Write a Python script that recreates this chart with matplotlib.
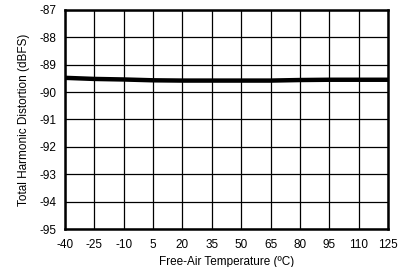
import matplotlib
matplotlib.use("Agg")
import matplotlib.pyplot as plt

temps = [-40, -25, -10, 5, 20, 35, 50, 65, 80, 95, 110, 125]
thd = [-89.48, -89.52, -89.54, -89.57, -89.58, -89.58, -89.58, -89.58, -89.56, -89.55, -89.55, -89.55]
xticks = [-40, -25, -10, 5, 20, 35, 50, 65, 80, 95, 110, 125]
yticks = [-95, -94, -93, -92, -91, -90, -89, -88, -87]

plt.rcParams['font.family'] = ['Liberation Sans', 'DejaVu Sans']
plt.rcParams['axes.unicode_minus'] = False
fig = plt.figure(figsize=(4.06, 2.67), dpi=100)
ax = fig.add_axes([0.160, 0.142, 0.796, 0.821])
ax.plot(temps, thd, color='black', linewidth=3.2, solid_capstyle='butt')
ax.set_xlim(-40, 125)
ax.set_ylim(-95, -87)
ax.set_xticks(xticks)
ax.set_yticks(yticks)
ax.grid(True, color='black', linewidth=0.9)
ax.set_axisbelow(True)
for s in ax.spines.values():
    s.set_linewidth(1.8)
ax.tick_params(axis='x', length=0, labelsize=8.5, pad=7)
ax.tick_params(axis='y', length=0, labelsize=8.5, pad=6)
ax.set_xlabel('Free-Air Temperature (ºC)', fontsize=8.5, labelpad=4)
ax.set_ylabel('Total Harmonic Distortion (dBFS)', fontsize=8.5, labelpad=7)
fig.savefig('out.png', dpi=100)
